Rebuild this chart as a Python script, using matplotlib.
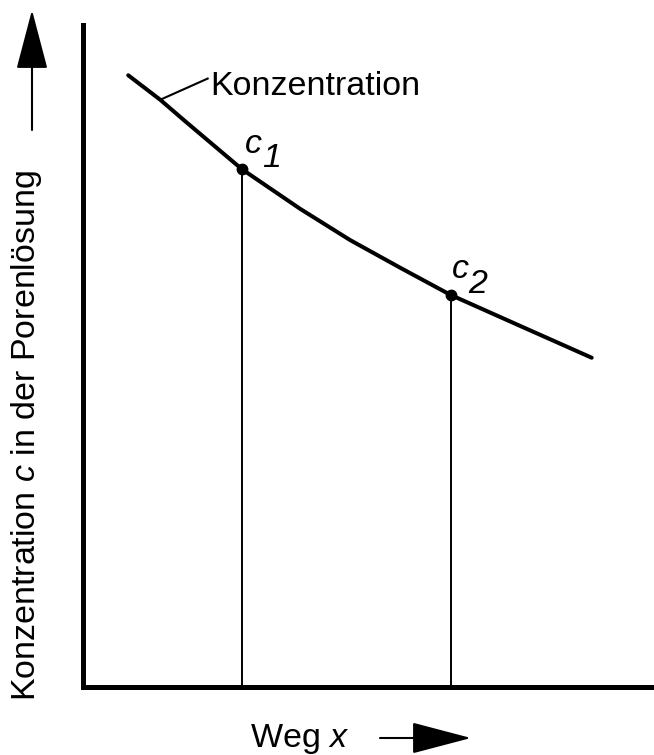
import matplotlib
matplotlib.use("Agg")
import matplotlib.pyplot as plt

plt.rcParams['font.family'] = ['Liberation Sans', 'DejaVu Sans']
plt.rcParams['mathtext.fontset'] = 'custom'
plt.rcParams['mathtext.rm'] = 'Liberation Sans'
plt.rcParams['mathtext.it'] = 'Liberation Sans:italic'

# curve (arbitrary units, axes 0..10)
weg = [0.80, 1.36, 1.79, 2.79, 3.81, 4.68, 5.56, 6.44, 7.66, 8.91]
konz = [9.24, 8.87, 8.55, 7.82, 7.22, 6.75, 6.33, 5.92, 5.45, 4.97]

# marked points c1, c2
pt_x = [2.79, 6.44]
pt_y = [7.82, 5.92]
pt_labels = ['1', '2']

curve_label = 'Konzentration'
xlabel = 'Weg $x$'
ylabel = 'Konzentration $c$ in der Porenlösung'

fig = plt.figure(figsize=(6.54, 7.55), dpi=100)
ax = fig.add_axes([82.5 / 654, 68.5 / 755, 571.5 / 654, 661.5 / 755])
ax.set_xlim(0, 10)
ax.set_ylim(0, 10)
for s in ['top', 'right']:
    ax.spines[s].set_visible(False)
for s in ['left', 'bottom']:
    ax.spines[s].set_linewidth(3.6)
    ax.spines[s].set_capstyle('projecting')
ax.set_xticks([])
ax.set_yticks([])

ax.plot(weg, konz, color='black', lw=2.9, solid_capstyle='round')

# drop lines and dots
for x, y in zip(pt_x, pt_y):
    ax.plot([x, x], [0, y], color='black', lw=1.4)
ax.plot(pt_x, pt_y, 'o', color='black', ms=7.5)

# point labels: c and index digit, same size
c_off = [(3, 16), (1, 17)]
d_off = [(20, 2), (18, 2)]
for x, y, lab, co, do in zip(pt_x, pt_y, pt_labels, c_off, d_off):
    ax.annotate('c', (x, y), xytext=co, textcoords='offset pixels',
                fontsize=24.5, style='italic', ha='left', va='baseline')
    ax.annotate(lab, (x, y), xytext=do, textcoords='offset pixels',
                fontsize=24.5, style='italic', ha='left', va='baseline')

# curve label with leader line
ax.plot([weg[1], 2.19], [konz[1], 9.19], color='black', lw=1.5)
ax.text(2.23, 8.94, curve_label, fontsize=24.5, ha='left', va='baseline')

# axis titles with arrows
fig.text(27 / 654, 1 - 436 / 755, ylabel, rotation=90, fontsize=24.5,
         ha='center', va='center')
fig.text(250 / 654, 8 / 755, xlabel, fontsize=24.5, ha='left', va='baseline')

fig.patches.append(plt.matplotlib.patches.FancyArrowPatch(
    (32, 755 - 130), (32, 755 - 10), transform=None,
    arrowstyle='-|>,head_length=3.8,head_width=1.0', mutation_scale=10,
    color='black', lw=1.5, shrinkA=0, shrinkB=0))
fig.patches.append(plt.matplotlib.patches.FancyArrowPatch(
    (380, 755 - 738), (471, 755 - 738), transform=None,
    arrowstyle='-|>,head_length=3.8,head_width=1.0', mutation_scale=10,
    color='black', lw=1.5, shrinkA=0, shrinkB=0))

fig.savefig('out.png', dpi=100, facecolor='white')
